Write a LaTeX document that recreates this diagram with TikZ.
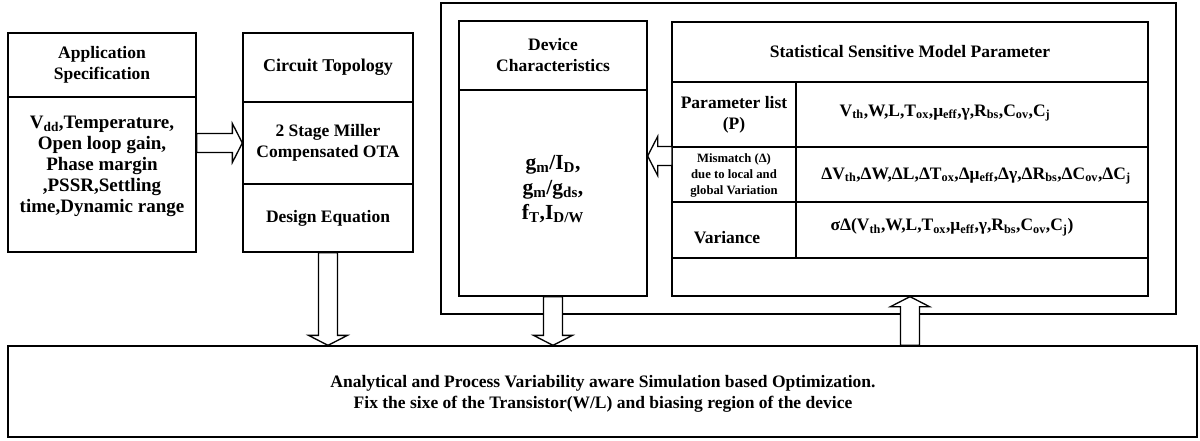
\documentclass[tikz,border=0pt]{standalone}
\usepackage{fontspec}
\setmainfont{Liberation Serif}
\usetikzlibrary{positioning,calc}

% hollow block arrow from #1 to #2
\newcommand{\fatarrow}[2]{%
  \draw[fat] let \p1=(#1), \p2=(#2), \n1={atan2(\y2-\y1,\x2-\x1)}, \n2={veclen(\x2-\x1,\y2-\y1)-10pt} in
    ($(\p1)+(\n1+90:9.5pt)$) -- ($(\p1)+(\n1:\n2)+(\n1+90:9.5pt)$) -- ($(\p1)+(\n1:\n2)+(\n1+90:19.5pt)$)
    -- (\p2) -- ($(\p1)+(\n1:\n2)+(\n1-90:19.5pt)$) -- ($(\p1)+(\n1:\n2)+(\n1-90:9.5pt)$)
    -- ($(\p1)+(\n1-90:9.5pt)$) -- cycle;}

\begin{document}
\begin{tikzpicture}[x=1pt, y=-1pt,
    cell/.style={rectangle, draw, line width=1.3pt, inner sep=0pt, align=center, font=\fontsize{17.5}{21}\selectfont\bfseries},
    txt/.style={inner sep=0pt, align=center, font=\fontsize{17.5}{21}\selectfont\bfseries},
    small/.style={inner sep=0pt, align=center, font=\fontsize{12.7}{16}\selectfont\bfseries},
    fat/.style={line width=1.3pt, fill=white, line join=miter}
]
\useasboundingbox (0,0) rectangle (1200,441);

% Application specification
\node[cell, minimum width=188, minimum height=64] (app) at (102,65) {Application\\Specification};
\node[cell, minimum width=188, minimum height=155] (appbody) at (102,174.5) {};
\node[txt, font=\fontsize{19}{21}\selectfont\bfseries] (apptxt) at (102,166) {V\textsubscript{dd},Temperature,\\Open loop gain,\\Phase margin\\,PSSR,Settling\\time,Dynamic range};

% Circuit topology
\node[cell, minimum width=170, minimum height=69, font=\fontsize{18}{21}\selectfont\bfseries] (topo) at (328,67.5) {Circuit Topology};
\node[cell, minimum width=170, minimum height=82] (ota) at (328,143) {2 Stage Miller\\Compensated OTA};
\node[cell, minimum width=170, minimum height=68] (deq) at (328,218) {Design Equation};

% Outer frame
\node[cell, minimum width=735, minimum height=311] (frame) at (808.5,158.5) {};

% Device characteristics
\node[cell, minimum width=188, minimum height=69] (dev) at (553,55.5) {Device\\Characteristics};
\node[cell, minimum width=188, minimum height=206] (devbody) at (553,193) {};
\node[txt, font=\fontsize{21.5}{25}\selectfont\bfseries] (devtxt) at (553,189) {g\textsubscript{m}/I\textsubscript{D},\\g\textsubscript{m}/g\textsubscript{ds},\\f\textsubscript{T},I\textsubscript{D/W}};

% Statistical sensitive model parameter
\node[cell, minimum width=476, minimum height=60] (stat) at (910,52) {Statistical Sensitive Model Parameter};
\node[cell, minimum width=124, minimum height=65] (plist) at (734,114.5) {Parameter list\\(P)};
\node[cell, minimum width=352, minimum height=65] (pval) at (972,114.5) {};
\node[cell, minimum width=124, minimum height=55] (mis) at (734,174.5) {};
\node[cell, minimum width=352, minimum height=55] (mval) at (972,174.5) {};
\node[cell, minimum width=124, minimum height=56] (var) at (734,230) {};
\node[cell, minimum width=352, minimum height=56] (vval) at (972,230) {};
\node[cell, minimum width=476, minimum height=38] (spare) at (910,277) {};

\node[txt] (ptxt) at (945,113) {V\textsubscript{th},W,L,T\textsubscript{ox},μ\textsubscript{eff},γ,R\textsubscript{bs},C\textsubscript{ov},C\textsubscript{j}};
\node[small] (mtxt) at (734,175) {Mismatch (Δ)\\due to local and\\global Variation};
\node[txt] (mvtxt) at (976,176) {ΔV\textsubscript{th},ΔW,ΔL,ΔT\textsubscript{ox},Δμ\textsubscript{eff},Δγ,ΔR\textsubscript{bs},ΔC\textsubscript{ov},ΔC\textsubscript{j}};
\node[txt] (vtxt) at (727,238) {Variance};
\node[txt] (vvtxt) at (952,227) {σΔ(V\textsubscript{th},W,L,T\textsubscript{ox},μ\textsubscript{eff},γ,R\textsubscript{bs},C\textsubscript{ov},C\textsubscript{j})};

% Optimization
\node[cell, minimum width=1189, minimum height=91] (opt) at (602.5,391.5) {};
\node[txt] (opttxt) at (603,394) {Analytical and Process Variability aware Simulation based Optimization.\\Fix the sixe of the Transistor(W/L) and biasing region of the device};

% Arrows
\coordinate (fb) at (672,156);
\fatarrow{ota.west -| appbody.east}{ota.west}
\fatarrow{deq.south}{deq.south |- opt.north}
\fatarrow{devbody.south}{devbody.south |- opt.north}
\fatarrow{fb}{fb -| devbody.east}
\fatarrow{spare.south |- opt.north}{spare.south}

\end{tikzpicture}
\end{document}
